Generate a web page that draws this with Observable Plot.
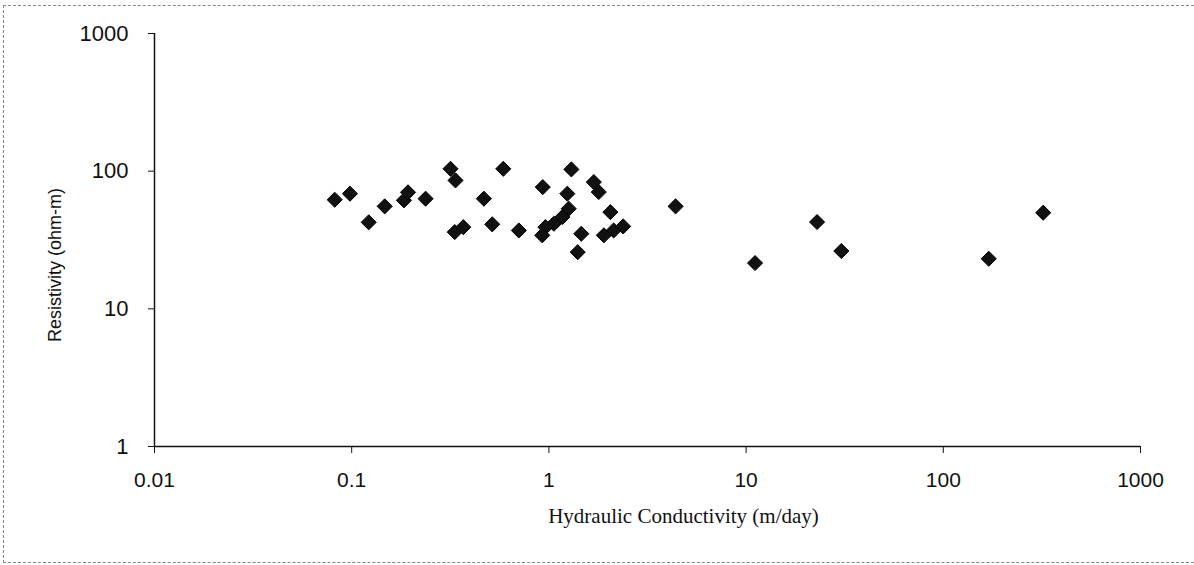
<!DOCTYPE html>
<html>
<head>
<meta charset="utf-8">
<script src="https://cdn.jsdelivr.net/npm/d3@7"></script>
<script src="https://cdn.jsdelivr.net/npm/@observablehq/plot@0.6"></script>
<style>
  html, body { margin: 0; padding: 0; background: #fff; }
  #wrap { position: relative; width: 1194px; height: 565px; overflow: hidden; }
  #frame { position: absolute; left: 3px; top: 5px; width: 1200px; height: 556px;
           border-left: 1px dashed #888; border-top: 1px dashed #888; border-bottom: 1px dashed #888; }
  #chart { position: absolute; left: 0; top: 0; }
</style>
</head>
<body>
<div id="wrap"><div id="frame"></div><div id="chart"></div></div>
<script>
// Hydraulic conductivity (m/day)
const conductivity = [0.082, 0.098, 0.122, 0.147, 0.184, 0.193, 0.237, 0.317, 0.336, 0.333,
  0.368, 0.468, 0.516, 0.587, 0.704, 0.931, 1.30, 1.24, 1.69, 1.79,
  1.26, 1.17, 1.06, 0.96, 0.925, 1.46, 1.40, 2.05, 1.90, 2.13,
  2.38, 4.39, 11.1, 22.9, 30.4, 170, 321];
// Resistivity (ohm-m)
const resistivity = [62, 68.6, 42.5, 55.5, 61.4, 70.2, 63.1, 104, 85.7, 36.1,
  39.2, 63.1, 41.1, 104, 37.1, 76.6, 103, 68.6, 83.3, 70.5,
  53.4, 46.4, 41.5, 39.2, 34.2, 35.1, 25.8, 50.4, 34.2, 37.1,
  39.7, 55.5, 21.5, 42.7, 26.3, 23.1, 49.9];
const xTicks = [0.01, 0.1, 1, 10, 100, 1000];
const yTicks = [1, 10, 100, 1000];
const xTitle = "Hydraulic Conductivity (m/day)";
const yTitle = "Resistivity (ohm-m)";

const data = conductivity.map((k, i) => ({k, r: resistivity[i]}));

const chart = Plot.plot({
  width: 1194,
  height: 565,
  marginLeft: 154,
  marginRight: 54,
  marginTop: 33,
  marginBottom: 119,
  style: {background: "transparent", color: "#111"},
  x: {type: "log", domain: [0.01, 1000]},
  y: {type: "log", domain: [1, 1000]},
  marks: [
    Plot.axisY(yTicks, {tickSize: 6, tickPadding: 20, tickFormat: d => String(d),
      fontSize: 22, fontFamily: "Liberation Sans, Arial, sans-serif", label: null, stroke: "#111"}),
    Plot.axisX(xTicks, {tickSize: 7, tickPadding: 19, tickFormat: d => String(d),
      fontSize: 21, fontFamily: "Liberation Sans, Arial, sans-serif", label: null, stroke: "#111"}),
    Plot.ruleX([0.01], {stroke: "#111", strokeWidth: 1.5}),
    Plot.ruleY([1], {stroke: "#111", strokeWidth: 1.5}),
    Plot.dot(data, {x: "k", y: "r", symbol: "diamond2", r: 6.8, fill: "#111", stroke: "#000", strokeWidth: 1}),
    Plot.text([yTitle], {frameAnchor: "left", textAnchor: "middle", lineAnchor: "middle", rotate: -90, dx: -99, dy: 25,
      fontSize: 18, fontFamily: "Liberation Sans, Arial, sans-serif", fill: "#111"}),
    Plot.text([xTitle], {frameAnchor: "bottom", textAnchor: "middle", lineAnchor: "middle", dx: 36, dy: 70,
      fontSize: 21, fontFamily: "Liberation Serif, Times New Roman, serif", fill: "#111"})
  ]
});
document.getElementById("chart").appendChild(chart);
</script>
</body>
</html>
